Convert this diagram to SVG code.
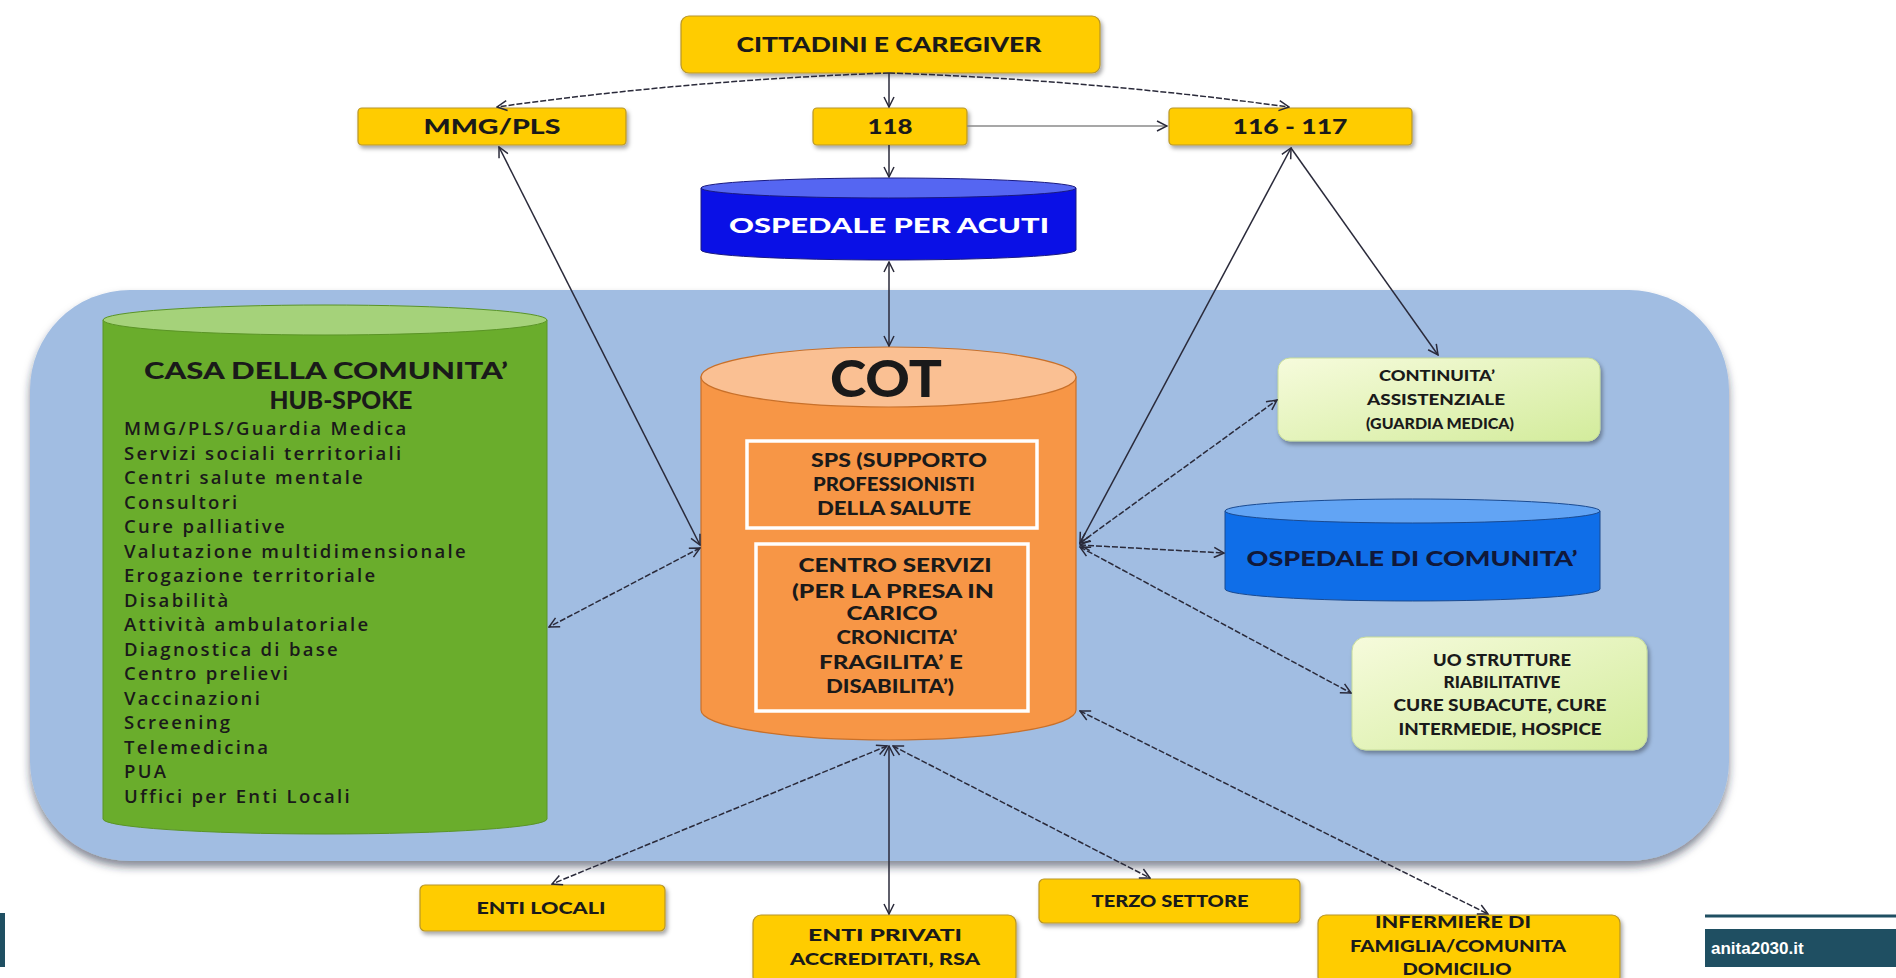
<svg xmlns="http://www.w3.org/2000/svg" width="1896" height="978" viewBox="0 0 1896 978">
<defs>
  <filter id="sh" x="-10%" y="-10%" width="125%" height="140%">
    <feDropShadow dx="2" dy="3" stdDeviation="2" flood-color="#000" flood-opacity="0.35"/>
  </filter>
  <filter id="shb" x="-5%" y="-5%" width="110%" height="115%">
    <feDropShadow dx="0" dy="6" stdDeviation="4" flood-color="#1a2a40" flood-opacity="0.55"/>
  </filter>
  <linearGradient id="lg" x1="0" y1="0" x2="1" y2="1">
    <stop offset="0" stop-color="#f6fbdc"/>
    <stop offset="1" stop-color="#d3ec9c"/>
  </linearGradient>
  <marker id="ar" viewBox="0 0 12 12" refX="11" refY="6" markerWidth="12" markerHeight="12" markerUnits="userSpaceOnUse" orient="auto-start-reverse">
    <path d="M1,1 L11,6 L1,11" fill="none" stroke="#2a2a3a" stroke-width="1.5"/>
  </marker>
  <style>
    .ybox{fill:#ffcc00;stroke:#b8962a;stroke-width:1.2;filter:url(#sh)}
    .gbox{fill:url(#lg);stroke:#c7dc9a;stroke-width:1;filter:url(#sh)}
    .t{font-family:Lato,"Liberation Sans",sans-serif;font-weight:900;fill:#1a1a1a;text-anchor:middle}
    .li{font-family:"Open Sans","Liberation Sans",sans-serif;font-weight:600;fill:#1a1a1a;font-size:18.5px;letter-spacing:2.3px}
    .c{fill:none;stroke:#2a2a3a;stroke-width:1.5}
    .d{stroke-dasharray:6 2}
    .m2{marker-start:url(#ar);marker-end:url(#ar)}
    .m1{marker-end:url(#ar)}
  </style>
</defs>
<rect width="1896" height="978" fill="#ffffff"/>

<g id="area">
  <rect x="30" y="290" width="1699" height="571" rx="100" fill="#a1bde2" filter="url(#shb)"/>
</g>

<g id="cittadini">
  <rect class="ybox" x="681" y="16" width="419" height="57" rx="8"/>
  <text class="t" x="889" y="52" font-size="20" textLength="305" lengthAdjust="spacingAndGlyphs">CITTADINI E CAREGIVER</text>
</g>
<g id="mmg">
  <rect class="ybox" x="358" y="108" width="268" height="37" rx="4"/>
  <text class="t" x="492" y="134" font-size="20" textLength="137" lengthAdjust="spacingAndGlyphs">MMG/PLS</text>
</g>
<g id="n118">
  <rect class="ybox" x="813" y="108" width="154" height="37" rx="4"/>
  <text class="t" x="890" y="134" font-size="20" textLength="45" lengthAdjust="spacingAndGlyphs">118</text>
</g>
<g id="n116">
  <rect class="ybox" x="1169" y="108" width="243" height="37" rx="4"/>
  <text class="t" x="1290" y="134" font-size="20" textLength="115" lengthAdjust="spacingAndGlyphs">116 - 117</text>
</g>

<g id="ospedale-acuti">
  <path d="M701,188 L701,250 A187.5,10 0 0 0 1076,250 L1076,188 Z" fill="#0a10e6" stroke="#1a1a80" stroke-width="1"/>
  <ellipse cx="888.5" cy="188" rx="187.5" ry="10" fill="#5566f2" stroke="#1a1a80" stroke-width="1"/>
  <text class="t" x="889" y="233" font-size="20" style="fill:#ffffff" textLength="320" lengthAdjust="spacingAndGlyphs">OSPEDALE PER ACUTI</text>
</g>

<g id="casa-comunita">
  <path d="M103,320 L103,819 A222,15 0 0 0 547,819 L547,320 Z" fill="#6aad2c" stroke="#5a9426" stroke-width="1"/>
  <ellipse cx="325" cy="320" rx="222" ry="15" fill="#a5d27a" stroke="#5a9426" stroke-width="1"/>
  <text class="t" x="326" y="379" font-size="23" textLength="364" lengthAdjust="spacingAndGlyphs">CASA DELLA COMUNITA’</text>
  <text class="t" x="341" y="409" font-size="24" textLength="143" lengthAdjust="spacingAndGlyphs">HUB-SPOKE</text>
  <text class="li" x="124" y="435">MMG/PLS/Guardia  Medica</text>
  <text class="li" x="124" y="459.5">Servizi  sociali territoriali</text>
  <text class="li" x="124" y="484">Centri  salute mentale</text>
  <text class="li" x="124" y="508.5">Consultori</text>
  <text class="li" x="124" y="533">Cure palliative</text>
  <text class="li" x="124" y="557.5">Valutazione  multidimensionale</text>
  <text class="li" x="124" y="582">Erogazione  territoriale</text>
  <text class="li" x="124" y="606.5">Disabilità</text>
  <text class="li" x="124" y="631">Attività  ambulatoriale</text>
  <text class="li" x="124" y="655.5">Diagnostica di base</text>
  <text class="li" x="124" y="680">Centro prelievi</text>
  <text class="li" x="124" y="704.5">Vaccinazioni</text>
  <text class="li" x="124" y="729">Screening</text>
  <text class="li" x="124" y="753.5">Telemedicina</text>
  <text class="li" x="124" y="778">PUA</text>
  <text class="li" x="124" y="802.5">Uffici per Enti Locali</text>
</g>

<g id="cot">
  <path d="M701,377 L701,710 A187.5,30 0 0 0 1076,710 L1076,377 Z" fill="#f79646" stroke="#c8702a" stroke-width="1.2"/>
  <ellipse cx="888.5" cy="377" rx="187.5" ry="30" fill="#fac093" stroke="#c8702a" stroke-width="1.2"/>
  <text class="t" x="886" y="397" font-size="52" textLength="112" lengthAdjust="spacingAndGlyphs">COT</text>
  <rect x="747" y="441" width="290" height="87" fill="#f79646" stroke="#ffffff" stroke-width="3.5"/>
  <text class="t" x="899" y="467" font-size="18" textLength="176" lengthAdjust="spacingAndGlyphs">SPS (SUPPORTO</text>
  <text class="t" x="894" y="491" font-size="18" textLength="162" lengthAdjust="spacingAndGlyphs">PROFESSIONISTI</text>
  <text class="t" x="894" y="515" font-size="18" textLength="154" lengthAdjust="spacingAndGlyphs">DELLA SALUTE</text>
  <rect x="756" y="544" width="272" height="167" fill="#f79646" stroke="#ffffff" stroke-width="3.5"/>
  <text class="t" x="895" y="572" font-size="18" textLength="193" lengthAdjust="spacingAndGlyphs">CENTRO SERVIZI</text>
  <text class="t" x="893" y="598" font-size="18" textLength="202" lengthAdjust="spacingAndGlyphs">(PER LA PRESA IN</text>
  <text class="t" x="892" y="620" font-size="18" textLength="91" lengthAdjust="spacingAndGlyphs">CARICO</text>
  <text class="t" x="897" y="644" font-size="18" textLength="121" lengthAdjust="spacingAndGlyphs">CRONICITA’</text>
  <text class="t" x="891" y="669" font-size="18" textLength="144" lengthAdjust="spacingAndGlyphs">FRAGILITA’ E</text>
  <text class="t" x="890" y="693" font-size="18" textLength="128" lengthAdjust="spacingAndGlyphs">DISABILITA’)</text>
</g>

<g id="continuita">
  <rect class="gbox" x="1278" y="358" width="322" height="83" rx="12"/>
  <text class="t" x="1437" y="381" font-size="15" textLength="116" lengthAdjust="spacingAndGlyphs">CONTINUITA’</text>
  <text class="t" x="1436" y="405" font-size="15" textLength="138" lengthAdjust="spacingAndGlyphs">ASSISTENZIALE</text>
  <text class="t" x="1440" y="429" font-size="15" textLength="148" lengthAdjust="spacingAndGlyphs">(GUARDIA MEDICA)</text>
</g>

<g id="ospedale-comunita">
  <path d="M1225,511 L1225,589 A187.5,12 0 0 0 1600,589 L1600,511 Z" fill="#0f6ee8" stroke="#1a4a90" stroke-width="1"/>
  <ellipse cx="1412.5" cy="511" rx="187.5" ry="12" fill="#62a4f4" stroke="#1a4a90" stroke-width="1"/>
  <text class="t" x="1412" y="566" font-size="21" style="fill:#10183a" textLength="331" lengthAdjust="spacingAndGlyphs">OSPEDALE DI COMUNITA’</text>
</g>

<g id="uo-strutture">
  <rect class="gbox" x="1352" y="637" width="295" height="113" rx="14"/>
  <text class="t" x="1502" y="666" font-size="16" textLength="138" lengthAdjust="spacingAndGlyphs">UO STRUTTURE</text>
  <text class="t" x="1502" y="688" font-size="16" textLength="117" lengthAdjust="spacingAndGlyphs">RIABILITATIVE</text>
  <text class="t" x="1500" y="711" font-size="16" textLength="213" lengthAdjust="spacingAndGlyphs">CURE SUBACUTE, CURE</text>
  <text class="t" x="1500" y="735" font-size="16" textLength="203" lengthAdjust="spacingAndGlyphs">INTERMEDIE, HOSPICE</text>
</g>

<g id="enti-locali">
  <rect class="ybox" x="420" y="885" width="245" height="46" rx="5"/>
  <text class="t" x="541" y="914" font-size="17" textLength="129" lengthAdjust="spacingAndGlyphs">ENTI LOCALI</text>
</g>
<g id="enti-privati">
  <rect class="ybox" x="753" y="915" width="263" height="70" rx="8"/>
  <text class="t" x="885" y="941" font-size="17" textLength="154" lengthAdjust="spacingAndGlyphs">ENTI PRIVATI</text>
  <text class="t" x="885" y="965" font-size="17" textLength="190" lengthAdjust="spacingAndGlyphs">ACCREDITATI, RSA</text>
</g>
<g id="terzo-settore">
  <rect class="ybox" x="1039" y="879" width="261" height="44" rx="5"/>
  <text class="t" x="1170" y="907" font-size="17" textLength="157" lengthAdjust="spacingAndGlyphs">TERZO SETTORE</text>
</g>
<g id="infermiere">
  <rect class="ybox" x="1318" y="915" width="302" height="70" rx="8"/>
  <text class="t" x="1453" y="928" font-size="17" textLength="156" lengthAdjust="spacingAndGlyphs">INFERMIERE DI</text>
  <text class="t" x="1458" y="952" font-size="17" textLength="216" lengthAdjust="spacingAndGlyphs">FAMIGLIA/COMUNITA</text>
  <text class="t" x="1457" y="975" font-size="17" textLength="109" lengthAdjust="spacingAndGlyphs">DOMICILIO</text>
</g>

<g id="connectors">
  <path class="c m1" d="M889,73 L889,107"/>
  <path class="c d m1" d="M889,73 Q690,80 497,107"/>
  <path class="c d m1" d="M889,73 Q1090,80 1289,107"/>
  <path class="c m1" d="M967,126 L1167,126" style="stroke:#8a8a8a"/>
  <path class="c m1" d="M889,145 L889,177"/>
  <path class="c m2" d="M889,262 L889,346"/>
  <path class="c m2" d="M499,147 L700,545"/>
  <path class="c d m2" d="M700,548 L549,627"/>
  <path class="c m2" d="M1291,148 L1080,543"/>
  <path class="c m1" d="M1291,148 L1438,355"/>
  <path class="c d m2" d="M1080,543 L1277,400"/>
  <path class="c d m2" d="M1080,545 L1224,553"/>
  <path class="c d m2" d="M1080,547 L1351,693"/>
  <path class="c d m2" d="M887,746 L552,884"/>
  <path class="c m2" d="M889,746 L889,914"/>
  <path class="c d m2" d="M893,746 L1150,878"/>
  <path class="c d m2" d="M1080,711 L1488,914"/>
</g>

<g id="footer">
  <rect x="0" y="913" width="5" height="54" fill="#1f4f62"/>
  <line x1="1705" y1="916" x2="1896" y2="916" stroke="#1f4f62" stroke-width="3"/>
  <rect x="1705" y="929" width="191" height="38" fill="#1f4f62"/>
  <text x="1711" y="954" font-family="'Liberation Sans',Arial,sans-serif" font-weight="bold" font-size="17" fill="#ffffff">anita2030.it</text>
</g>
</svg>
